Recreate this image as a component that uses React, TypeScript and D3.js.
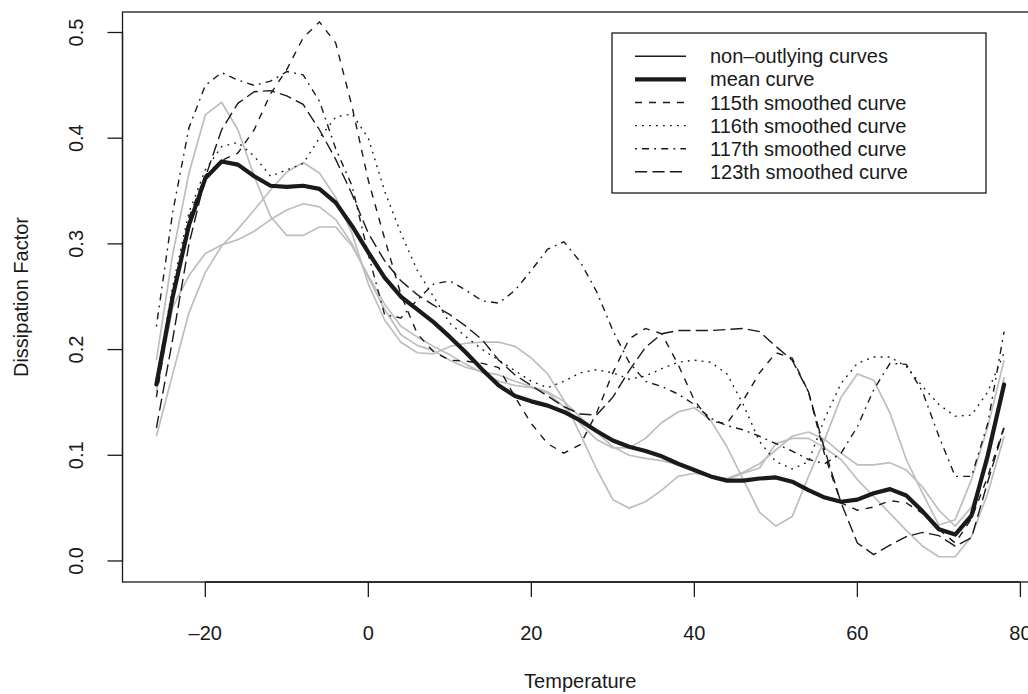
import React from "react"
import * as d3 from "d3"

// Data: temperature grid and curves
const temps = [-26, -24, -22, -20, -18, -16, -14, -12, -10, -8, -6, -4, -2, 0, 2, 4, 6, 8, 10, 12, 14, 16, 18, 20, 22, 24, 26, 28, 30, 32, 34, 36, 38, 40, 42, 44, 46, 48, 50, 52, 54, 56, 58, 60, 62, 64, 66, 68, 70, 72, 74, 76, 78]

const gray1 = [0.19, 0.29, 0.367, 0.422, 0.434, 0.408, 0.364, 0.326, 0.308, 0.308, 0.316, 0.316, 0.298, 0.27, 0.243, 0.222, 0.212, 0.203, 0.195, 0.186, 0.178, 0.17, 0.166, 0.164, 0.159, 0.146, 0.13, 0.115, 0.107, 0.107, 0.116, 0.131, 0.141, 0.145, 0.133, 0.108, 0.077, 0.046, 0.033, 0.042, 0.08, 0.115, 0.155, 0.177, 0.171, 0.14, 0.096, 0.064, 0.034, 0.039, 0.077, 0.127, 0.19]
const gray2 = [0.118, 0.177, 0.235, 0.273, 0.298, 0.314, 0.332, 0.351, 0.368, 0.377, 0.367, 0.344, 0.31, 0.262, 0.228, 0.207, 0.197, 0.196, 0.203, 0.206, 0.207, 0.207, 0.203, 0.192, 0.177, 0.152, 0.12, 0.087, 0.058, 0.05, 0.056, 0.067, 0.08, 0.083, 0.08, 0.077, 0.083, 0.088, 0.111, 0.116, 0.116, 0.107, 0.096, 0.077, 0.061, 0.045, 0.029, 0.014, 0.004, 0.004, 0.023, 0.064, 0.118]
const gray3 = [0.16, 0.24, 0.27, 0.291, 0.299, 0.304, 0.312, 0.323, 0.332, 0.338, 0.335, 0.323, 0.3, 0.268, 0.238, 0.214, 0.204, 0.199, 0.19, 0.183, 0.179, 0.176, 0.17, 0.165, 0.16, 0.151, 0.136, 0.122, 0.108, 0.1, 0.097, 0.095, 0.091, 0.085, 0.08, 0.078, 0.084, 0.092, 0.105, 0.118, 0.122, 0.115, 0.102, 0.091, 0.091, 0.093, 0.086, 0.07, 0.048, 0.033, 0.051, 0.093, 0.174]

const meanCurve = [0.167, 0.25, 0.318, 0.362, 0.378, 0.375, 0.364, 0.355, 0.354, 0.355, 0.352, 0.339, 0.317, 0.292, 0.268, 0.25, 0.238, 0.226, 0.212, 0.197, 0.181, 0.166, 0.156, 0.151, 0.147, 0.141, 0.133, 0.123, 0.114, 0.108, 0.104, 0.099, 0.092, 0.086, 0.08, 0.076, 0.076, 0.078, 0.079, 0.075, 0.067, 0.06, 0.056, 0.058, 0.064, 0.068, 0.062, 0.047, 0.03, 0.025, 0.043, 0.1, 0.167]

const curve115 = [0.155, 0.25, 0.325, 0.365, 0.379, 0.386, 0.408, 0.442, 0.465, 0.495, 0.51, 0.49, 0.43, 0.36, 0.305, 0.252, 0.215, 0.198, 0.19, 0.189, 0.187, 0.183, 0.155, 0.13, 0.111, 0.102, 0.11, 0.14, 0.178, 0.21, 0.22, 0.215, 0.186, 0.152, 0.132, 0.13, 0.152, 0.178, 0.197, 0.192, 0.16, 0.1, 0.055, 0.048, 0.051, 0.057, 0.055, 0.045, 0.03, 0.017, 0.04, 0.08, 0.127]
const curve116 = [0.17, 0.26, 0.33, 0.37, 0.392, 0.396, 0.383, 0.364, 0.37, 0.376, 0.4, 0.42, 0.423, 0.4, 0.35, 0.31, 0.275, 0.25, 0.225, 0.212, 0.2, 0.19, 0.18, 0.17, 0.164, 0.17, 0.178, 0.181, 0.178, 0.172, 0.175, 0.182, 0.188, 0.19, 0.188, 0.177, 0.148, 0.113, 0.094, 0.087, 0.094, 0.135, 0.168, 0.187, 0.193, 0.193, 0.184, 0.165, 0.148, 0.137, 0.138, 0.16, 0.197]
const curve117 = [0.222, 0.33, 0.41, 0.45, 0.462, 0.455, 0.45, 0.454, 0.463, 0.46, 0.435, 0.39, 0.355, 0.29, 0.233, 0.23, 0.247, 0.262, 0.265, 0.256, 0.246, 0.244, 0.256, 0.275, 0.295, 0.302, 0.283, 0.255, 0.218, 0.188, 0.17, 0.165, 0.158, 0.148, 0.135, 0.128, 0.124, 0.118, 0.111, 0.104, 0.096, 0.092, 0.102, 0.127, 0.162, 0.187, 0.186, 0.16, 0.118, 0.08, 0.08, 0.13, 0.217]
const curve123 = [0.126, 0.21, 0.3, 0.363, 0.408, 0.433, 0.444, 0.445, 0.44, 0.432, 0.408, 0.38, 0.347, 0.31, 0.284, 0.265, 0.252, 0.242, 0.233, 0.222, 0.209, 0.19, 0.176, 0.166, 0.156, 0.146, 0.139, 0.138, 0.155, 0.18, 0.202, 0.215, 0.218, 0.218, 0.218, 0.219, 0.22, 0.217, 0.203, 0.19, 0.16, 0.105, 0.055, 0.017, 0.006, 0.015, 0.023, 0.027, 0.024, 0.014, 0.022, 0.075, 0.126]

const legendLabels = ["non\u2013outlying curves", "mean curve", "115th smoothed curve", "116th smoothed curve", "117th smoothed curve", "123th smoothed curve"]

const FONT = "'Liberation Sans', Arial, Helvetica, sans-serif"
const INK = "#1a1a1a"

export default function App() {
  // Dimensions
  const totalW = 1028
  const totalH = 694
  const left = 122.5
  const right = 1038
  const top = 12
  const bottom = 582

  // Scales (R-style 4% padding around the data range)
  const xScale = d3.scaleLinear().domain([-30.16, 82.16]).range([left, right])
  const yScale = d3.scaleLinear().domain([-0.0199, 0.5194]).range([bottom, top])

  const line = d3
    .line<number>()
    .x((d, i) => xScale(temps[i]))
    .y(d => yScale(d))

  // line styles: R lty patterns scaled up
  const dashShort = "7 7"
  const dashDot = "1.8 5.2"
  const dashDotDash = "1.8 5.2 7 5.2"
  const dashLong = "12.2 5.2"

  const outliers = [
    { values: curve115, dash: dashShort },
    { values: curve116, dash: dashDot },
    { values: curve117, dash: dashDotDash },
    { values: curve123, dash: dashLong }
  ]

  const legendStyles = [
    { width: 1.4, dash: undefined },
    { width: 4.2, dash: undefined },
    { width: 1.4, dash: dashShort },
    { width: 1.4, dash: dashDot },
    { width: 1.4, dash: dashDotDash },
    { width: 1.4, dash: dashLong }
  ]

  const xTicks = xScale.ticks(5)
  const yTicks = yScale.ticks(5)
  const fmtY = d3.format(".1f")

  return (
    <svg
      width={totalW}
      height={totalH}
      style={{ position: "absolute", left: 0, top: 0, background: "white" }}
      fontFamily={FONT}
    >
      <rect x={0} y={0} width={totalW} height={totalH} fill="white" />

      {/* non-outlying curves */}
      {[gray1, gray2, gray3].map((c, i) => (
        <path key={`gray-${i}`} d={line(c) || ""} fill="none" stroke="#bebebe" strokeWidth={1.7} strokeLinejoin="round" />
      ))}

      {/* outlying smoothed curves */}
      {outliers.map((o, i) => (
        <path key={`out-${i}`} d={line(o.values) || ""} fill="none" stroke={INK} strokeWidth={1.4} strokeDasharray={o.dash} />
      ))}

      {/* mean curve */}
      <path d={line(meanCurve) || ""} fill="none" stroke={INK} strokeWidth={4.2} strokeLinejoin="round" strokeLinecap="round" />

      {/* plot box */}
      <rect x={left} y={top} width={right - left} height={bottom - top} fill="none" stroke={INK} strokeWidth={1.3} />

      {/* x axis */}
      <line x1={xScale(xTicks[0])} x2={xScale(xTicks[xTicks.length - 1])} y1={bottom} y2={bottom} stroke={INK} strokeWidth={1.3} />
      {xTicks.map(t => (
        <g key={`xt-${t}`}>
          <line x1={xScale(t)} x2={xScale(t)} y1={bottom} y2={bottom + 15} stroke={INK} strokeWidth={1.3} />
          <text x={xScale(t)} y={640} fontSize={20} textAnchor="middle" fill={INK}>
            {t < 0 ? `\u2013${Math.abs(t)}` : t}
          </text>
        </g>
      ))}
      <text x={(left + right) / 2} y={688} fontSize={20} textAnchor="middle" fill={INK}>
        Temperature
      </text>

      {/* y axis */}
      <line x1={left} x2={left} y1={yScale(yTicks[0])} y2={yScale(yTicks[yTicks.length - 1])} stroke={INK} strokeWidth={1.3} />
      {yTicks.map(t => (
        <g key={`yt-${t}`}>
          <line x1={left - 15} x2={left} y1={yScale(t)} y2={yScale(t)} stroke={INK} strokeWidth={1.3} />
          <text
            transform={`translate(83, ${yScale(t)}) rotate(-90)`}
            fontSize={20}
            textAnchor="middle"
            fill={INK}
          >
            {fmtY(t)}
          </text>
        </g>
      ))}
      <text transform={`translate(28, ${(top + bottom) / 2}) rotate(-90)`} fontSize={20} textAnchor="middle" fill={INK}>
        Dissipation Factor
      </text>

      {/* legend */}
      <rect x={612} y={33} width={374} height={160} fill="white" stroke={INK} strokeWidth={1.3} />
      {legendLabels.map((lab, i) => {
        const ly = 56.3 + i * 23.1
        return (
          <g key={`lg-${i}`}>
            <line x1={635} x2={686} y1={ly} y2={ly} stroke={INK} strokeWidth={legendStyles[i].width} strokeDasharray={legendStyles[i].dash} />
            <text x={710} y={ly + 7} fontSize={20} fill={INK}>
              {lab}
            </text>
          </g>
        )
      })}
    </svg>
  )
}
